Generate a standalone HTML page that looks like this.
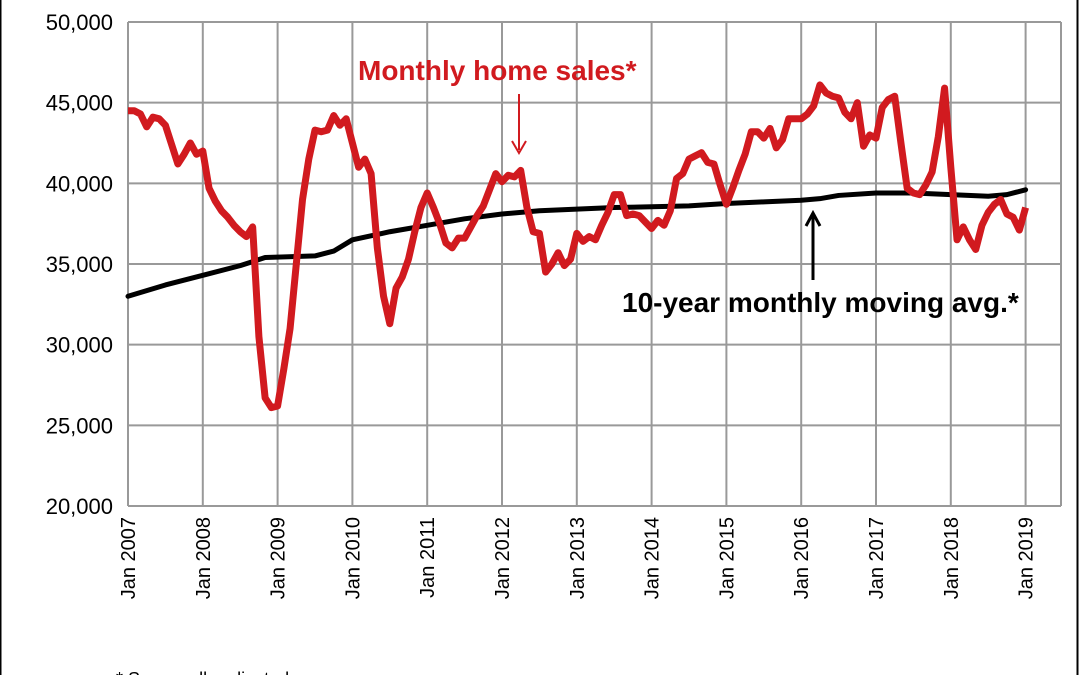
<!DOCTYPE html>
<html><head><meta charset="utf-8"><style>
html,body{margin:0;padding:0;background:#fff;}
svg{display:block;font-family:"Liberation Sans",sans-serif;}
</style></head><body>
<svg id="chart" width="1079" height="675">
<rect x="0.5" y="-2" width="1077" height="690" fill="#fff" stroke="#000" stroke-width="2"/>
<g id="grid"></g>
<g id="ylabels"></g>
<g id="xlabels"></g>
<g id="series"></g>
<text x="358" y="80" font-size="28" font-weight="bold" fill="#d11a1f">Monthly home sales*</text>
<line x1="519" y1="94" x2="519" y2="150" stroke="#d11a1f" stroke-width="2"/>
<path d="M512,141 L519,153 L526,141" fill="none" stroke="#d11a1f" stroke-width="2"/>
<text x="622" y="312" font-size="28" font-weight="bold" fill="#000">10-year monthly moving avg.*</text>
<line x1="813" y1="280" x2="813" y2="215" stroke="#000" stroke-width="3"/>
<path d="M806,226 L813,213 L820,226" fill="none" stroke="#000" stroke-width="3"/>
<text x="116" y="685" font-size="18" fill="#000">* Seasonally adjusted</text>
</svg>
<script>
const yTicks = [20000,25000,30000,35000,40000,45000,50000];
const xTickYears = [2007,2008,2009,2010,2011,2012,2013,2014,2015,2016,2017,2018,2019];
const sales = [
44.5,44.5,44.3,43.5,44.1,44.0,43.6,42.4,41.2,41.8,42.5,41.8,
42.0,39.7,38.9,38.3,37.9,37.4,37.0,36.7,37.3,30.5,26.7,26.1,
26.2,28.5,31.0,35.0,39.0,41.5,43.3,43.2,43.3,44.2,43.6,44.0,
42.5,41.0,41.5,40.6,36.0,33.0,31.3,33.5,34.2,35.3,37.0,38.5,
39.4,38.5,37.5,36.3,36.0,36.6,36.6,37.3,38.0,38.6,39.6,40.6,
40.1,40.5,40.4,40.8,38.5,37.0,36.9,34.5,35.0,35.7,34.9,35.3,
36.9,36.4,36.7,36.5,37.4,38.2,39.3,39.3,38.0,38.1,38.0,37.6,
37.2,37.7,37.4,38.3,40.3,40.6,41.5,41.7,41.9,41.3,41.2,39.9,
38.7,39.7,40.8,41.8,43.2,43.2,42.8,43.4,42.2,42.7,44.0,44.0,
44.0,44.3,44.8,46.1,45.6,45.4,45.3,44.4,44.0,45.0,42.3,43.0,
42.8,44.7,45.2,45.4,42.5,39.7,39.4,39.3,39.9,40.7,42.9,45.9,
41.0,36.5,37.3,36.5,35.9,37.4,38.2,38.7,39.0,38.1,37.9,37.1,
38.5];
const avgMonths = [0,6,12,18,22,30,33,36,42,48,54,60,66,72,78,84,90,96,102,108,111,114,120,126,132,138,141,144];
const avgValues = [33.0,33.7,34.3,34.9,35.4,35.5,35.8,36.5,37.0,37.4,37.8,38.1,38.3,38.4,38.5,38.55,38.6,38.75,38.85,38.95,39.05,39.25,39.4,39.4,39.3,39.2,39.3,39.6];

const NS="http://www.w3.org/2000/svg";
const X0=128, monthW=74.8/12, xRight=1061;
const Y0=506, yTop=22, vMin=20000, vMax=50000;
const xm = m => X0 + m*monthW;
const yv = v => Y0 - (v - vMin)/(vMax - vMin)*(Y0 - yTop);
function mk(tag, attrs, parent){const e=document.createElementNS(NS,tag);for(const k in attrs)e.setAttribute(k,attrs[k]);parent.appendChild(e);return e;}
const grid=document.getElementById('grid'), yl=document.getElementById('ylabels'), xl=document.getElementById('xlabels'), ser=document.getElementById('series');
yTicks.forEach(t=>{
  const l=mk('line',{x1:X0,x2:xRight,y1:yv(t),y2:yv(t),stroke:'#999','stroke-width':2},grid);
  
  
  const tx=mk('text',{x:113,y:yv(t)+8,'text-anchor':'end','font-size':22,fill:'#000'},yl);
  tx.textContent=t.toLocaleString('en-US');
  
  
});
xTickYears.forEach((yr,i)=>{
  const x=xm(i*12);
  const l=mk('line',{x1:x,x2:x,y1:yTop,y2:Y0,stroke:'#999','stroke-width':2},grid);
  
  
  const tx=mk('text',{x:0,y:0,'text-anchor':'end','font-size':20,fill:'#000',transform:`translate(${x+7},517) rotate(-90)`},xl);
  tx.textContent='Jan '+yr;
  
  
});
const rl=mk('line',{x1:xRight,x2:xRight,y1:yTop,y2:Y0,stroke:'#999','stroke-width':2},grid);


const avgPath=mk('polyline',{points:avgMonths.map((m,i)=>xm(m)+','+yv(avgValues[i]*1000)).join(' '),fill:'none',stroke:'#000','stroke-width':5,'stroke-linejoin':'round','stroke-linecap':'round'},ser);


const salesPath=mk('polyline',{points:sales.map((v,i)=>xm(i)+','+yv(v*1000)).join(' '),fill:'none',stroke:'#d11a1f','stroke-width':7,'stroke-linejoin':'round'},ser);


</script>
</body></html>
